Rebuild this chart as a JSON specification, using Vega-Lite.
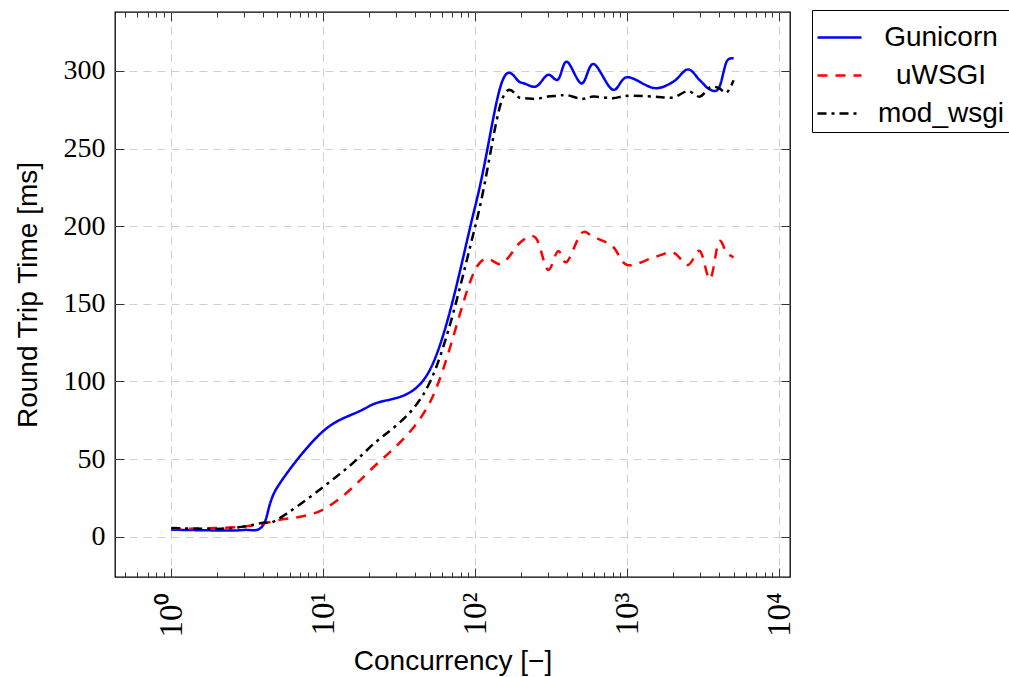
{
  "$schema": "https://vega.github.io/schema/vega-lite/v6.json",
  "width": 675,
  "height": 565,
  "autosize": "none",
  "padding": {"left": 115, "top": 12, "right": 219, "bottom": 100},
  "background": "white",
  "config": {
    "view": {"stroke": "black", "strokeWidth": 1.3},
    "axis": {"domain": false}
  },
  "datasets": {
    "rtt": [
      {"server": "Gunicorn", "c": 1, "t": 4.5},
      {"server": "Gunicorn", "c": 2, "t": 4},
      {"server": "Gunicorn", "c": 3, "t": 4.3},
      {"server": "Gunicorn", "c": 4, "t": 7},
      {"server": "Gunicorn", "c": 5, "t": 32},
      {"server": "Gunicorn", "c": 10, "t": 68},
      {"server": "Gunicorn", "c": 20, "t": 84},
      {"server": "Gunicorn", "c": 50, "t": 107},
      {"server": "Gunicorn", "c": 100, "t": 213},
      {"server": "Gunicorn", "c": 150, "t": 293},
      {"server": "Gunicorn", "c": 200, "t": 292.5},
      {"server": "Gunicorn", "c": 250, "t": 290},
      {"server": "Gunicorn", "c": 300, "t": 297.5},
      {"server": "Gunicorn", "c": 350, "t": 294.5},
      {"server": "Gunicorn", "c": 400, "t": 306},
      {"server": "Gunicorn", "c": 500, "t": 292},
      {"server": "Gunicorn", "c": 600, "t": 304.5},
      {"server": "Gunicorn", "c": 800, "t": 288},
      {"server": "Gunicorn", "c": 1000, "t": 296},
      {"server": "Gunicorn", "c": 1500, "t": 289},
      {"server": "Gunicorn", "c": 2000, "t": 293},
      {"server": "Gunicorn", "c": 2500, "t": 301},
      {"server": "Gunicorn", "c": 3000, "t": 294},
      {"server": "Gunicorn", "c": 3500, "t": 288},
      {"server": "Gunicorn", "c": 4000, "t": 289},
      {"server": "Gunicorn", "c": 4500, "t": 306},
      {"server": "Gunicorn", "c": 5000, "t": 308},
      {"server": "uWSGI", "c": 1, "t": 5},
      {"server": "uWSGI", "c": 2, "t": 5.5},
      {"server": "uWSGI", "c": 3, "t": 6.5},
      {"server": "uWSGI", "c": 4, "t": 8.5},
      {"server": "uWSGI", "c": 5, "t": 10.5},
      {"server": "uWSGI", "c": 10, "t": 17.5},
      {"server": "uWSGI", "c": 20, "t": 42},
      {"server": "uWSGI", "c": 50, "t": 86},
      {"server": "uWSGI", "c": 100, "t": 172},
      {"server": "uWSGI", "c": 150, "t": 176},
      {"server": "uWSGI", "c": 200, "t": 190},
      {"server": "uWSGI", "c": 250, "t": 192.5},
      {"server": "uWSGI", "c": 300, "t": 172},
      {"server": "uWSGI", "c": 350, "t": 184},
      {"server": "uWSGI", "c": 400, "t": 177},
      {"server": "uWSGI", "c": 500, "t": 195.5},
      {"server": "uWSGI", "c": 600, "t": 193},
      {"server": "uWSGI", "c": 800, "t": 187},
      {"server": "uWSGI", "c": 1000, "t": 175},
      {"server": "uWSGI", "c": 1500, "t": 180},
      {"server": "uWSGI", "c": 2000, "t": 183},
      {"server": "uWSGI", "c": 2500, "t": 175},
      {"server": "uWSGI", "c": 3000, "t": 184},
      {"server": "uWSGI", "c": 3500, "t": 166},
      {"server": "uWSGI", "c": 4000, "t": 190},
      {"server": "uWSGI", "c": 4500, "t": 183},
      {"server": "uWSGI", "c": 5000, "t": 180},
      {"server": "mod_wsgi", "c": 1, "t": 5.5},
      {"server": "mod_wsgi", "c": 2, "t": 5},
      {"server": "mod_wsgi", "c": 3, "t": 6.5},
      {"server": "mod_wsgi", "c": 4, "t": 9},
      {"server": "mod_wsgi", "c": 5, "t": 11},
      {"server": "mod_wsgi", "c": 10, "t": 32},
      {"server": "mod_wsgi", "c": 20, "t": 57},
      {"server": "mod_wsgi", "c": 50, "t": 99},
      {"server": "mod_wsgi", "c": 100, "t": 200},
      {"server": "mod_wsgi", "c": 150, "t": 281.5},
      {"server": "mod_wsgi", "c": 200, "t": 282.5},
      {"server": "mod_wsgi", "c": 250, "t": 282},
      {"server": "mod_wsgi", "c": 300, "t": 283.5},
      {"server": "mod_wsgi", "c": 350, "t": 284},
      {"server": "mod_wsgi", "c": 400, "t": 284.5},
      {"server": "mod_wsgi", "c": 500, "t": 282},
      {"server": "mod_wsgi", "c": 600, "t": 283.5},
      {"server": "mod_wsgi", "c": 800, "t": 282.5},
      {"server": "mod_wsgi", "c": 1000, "t": 284},
      {"server": "mod_wsgi", "c": 1500, "t": 283.5},
      {"server": "mod_wsgi", "c": 2000, "t": 283},
      {"server": "mod_wsgi", "c": 2500, "t": 287},
      {"server": "mod_wsgi", "c": 3000, "t": 283.5},
      {"server": "mod_wsgi", "c": 3500, "t": 289.5},
      {"server": "mod_wsgi", "c": 4000, "t": 289},
      {"server": "mod_wsgi", "c": 4500, "t": 286},
      {"server": "mod_wsgi", "c": 5000, "t": 294}
    ]
  },
  "data": {"name": "rtt"},
  "layer": [
    {
      "mark": {"type": "line", "interpolate": "cardinal", "tension": 0, "strokeWidth": 2.5},
      "encoding": {
        "x": {
          "field": "c",
          "type": "quantitative",
          "scale": {"type": "log", "domain": [0.427, 11750], "nice": false},
          "axis": {
            "orient": "bottom",
            "values": [0.5, 0.6, 0.7, 0.8, 0.9, 1, 2, 3, 4, 5, 6, 7, 8, 9, 10, 20, 30, 40, 50, 60, 70, 80, 90, 100, 200, 300, 400, 500, 600, 700, 800, 900, 1000, 2000, 3000, 4000, 5000, 6000, 7000, 8000, 9000, 10000],
            "labelExpr": "datum.value == 1 ? '10⁰' : datum.value == 10 ? '10¹' : datum.value == 100 ? '10²' : datum.value == 1000 ? '10³' : datum.value == 10000 ? '10⁴' : ''",
            "labelAngle": 270,
            "labelFont": "Liberation Serif",
            "labelFontSize": 33,
            "labelColor": "black",
            "labelPadding": 24,
            "labelOverlap": false,
            "labelFlush": false,
            "labelBound": false,
            "grid": true,
            "gridColor": "#d0d0d0",
            "gridDash": [8, 6],
            "gridWidth": 1,
            "gridOpacity": {"condition": {"test": "indexof([1,10,100,1000,10000], datum.value) >= 0", "value": 1}, "value": 0},
            "ticks": true,
            "tickColor": "#333333",
            "tickWidth": 1,
            "tickSize": {"condition": {"test": "indexof([1,10,100,1000,10000], datum.value) >= 0", "value": -9}, "value": -5},
            "title": "Concurrency [−]",
            "titleFont": "Liberation Sans",
            "titleFontSize": 28,
            "titleFontWeight": "normal",
            "titleColor": "black",
            "titlePadding": 10
          }
        },
        "y": {
          "field": "t",
          "type": "quantitative",
          "scale": {"domain": [-26, 338], "nice": false, "zero": false},
          "axis": {
            "orient": "left",
            "values": [0, 50, 100, 150, 200, 250, 300],
            "labelFont": "Liberation Serif",
            "labelFontSize": 28,
            "labelColor": "black",
            "labelPadding": 19,
            "grid": true,
            "gridColor": "#d0d0d0",
            "gridDash": [8, 6],
            "gridWidth": 1,
            "ticks": true,
            "tickColor": "#333333",
            "tickWidth": 1,
            "tickSize": -9,
            "title": "Round Trip Time [ms]",
            "titleFont": "Liberation Sans",
            "titleFontSize": 28,
            "titleFontWeight": "normal",
            "titleColor": "black",
            "titlePadding": 21
          }
        },
        "color": {
          "field": "server",
          "type": "nominal",
          "scale": {"domain": ["Gunicorn", "uWSGI", "mod_wsgi"], "range": ["#0000ff", "#ff0000", "#000000"]},
          "legend": {
            "orient": "none",
            "legendX": 697,
            "legendY": -2,
            "title": null,
            "strokeColor": "black",
            "fillColor": "white",
            "padding": 4,
            "symbolType": "M-1,0L1,0",
            "symbolSize": 1936,
            "symbolStrokeWidth": 2.5,
            "labelFont": "Liberation Sans",
            "labelFontSize": 28,
            "labelColor": "black",
            "labelAlign": "center",
            "labelOffset": 78,
            "rowPadding": 0
          }
        },
        "strokeDash": {
          "field": "server",
          "type": "nominal",
          "scale": {"domain": ["Gunicorn", "uWSGI", "mod_wsgi"], "range": [[1, 0], [10, 8], [9, 5, 3, 5]]}
        }
      }
    },
    {
      "mark": {"type": "line", "opacity": 0},
      "encoding": {
        "x": {
          "field": "c",
          "type": "quantitative",
          "axis": {
            "orient": "top",
            "values": [0.5, 0.6, 0.7, 0.8, 0.9, 1, 2, 3, 4, 5, 6, 7, 8, 9, 10, 20, 30, 40, 50, 60, 70, 80, 90, 100, 200, 300, 400, 500, 600, 700, 800, 900, 1000, 2000, 3000, 4000, 5000, 6000, 7000, 8000, 9000, 10000],
            "labels": false,
            "grid": false,
            "ticks": true,
            "tickColor": "#333333",
            "tickWidth": 1,
            "tickSize": {"condition": {"test": "indexof([1,10,100,1000,10000], datum.value) >= 0", "value": -9}, "value": -5},
            "title": null
          }
        },
        "y": {
          "field": "t",
          "type": "quantitative",
          "axis": {
            "orient": "right",
            "values": [0, 50, 100, 150, 200, 250, 300],
            "labels": false,
            "grid": false,
            "ticks": true,
            "tickColor": "#333333",
            "tickWidth": 1,
            "tickSize": -9,
            "title": null
          }
        }
      }
    }
  ],
  "resolve": {"axis": {"x": "independent", "y": "independent"}}
}
